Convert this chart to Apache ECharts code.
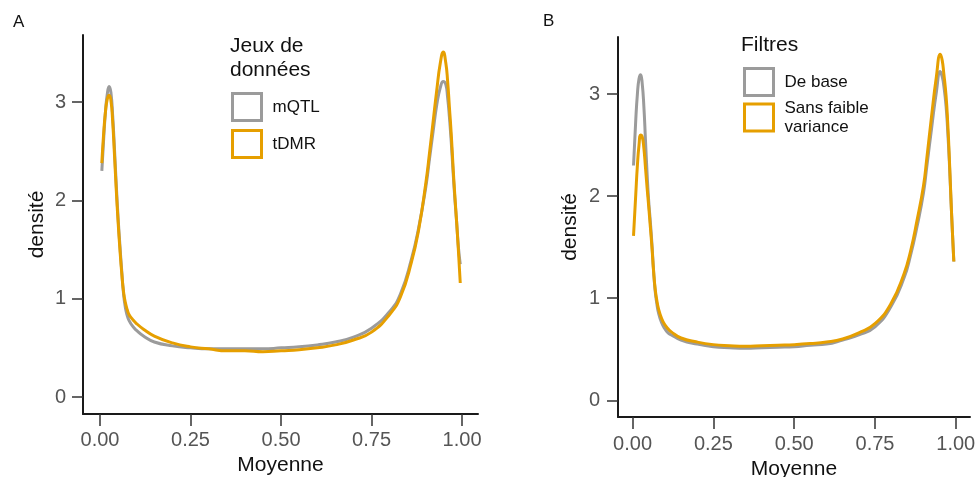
<!DOCTYPE html>
<html>
<head>
<meta charset="utf-8">
<script src="https://cdn.jsdelivr.net/npm/echarts@6/dist/echarts.min.js"></script>
<style>
  html, body { margin: 0; padding: 0; background: #fff; }
  #chart { width: 979px; height: 477px; }
</style>
</head>
<body>
<div id="chart"></div>
<script>
// panneau A : jeux de données
const xA = [0.005, 0.01, 0.015, 0.02, 0.025, 0.03, 0.035, 0.04, 0.045, 0.05, 0.055, 0.06, 0.065, 0.07, 0.075, 0.08, 0.09, 0.1, 0.12, 0.15, 0.2, 0.25, 0.3, 0.35, 0.4, 0.45, 0.5, 0.55, 0.6, 0.65, 0.7, 0.75, 0.8, 0.83, 0.86, 0.88, 0.9, 0.91, 0.92, 0.93, 0.94, 0.948, 0.955, 0.96, 0.965, 0.97, 0.975, 0.98, 0.985, 0.99, 0.995];
const mQTL = [2.30, 2.62, 2.90, 3.08, 3.16, 3.10, 2.86, 2.52, 2.15, 1.82, 1.54, 1.28, 1.05, 0.91, 0.83, 0.78, 0.72, 0.68, 0.62, 0.56, 0.52, 0.50, 0.49, 0.49, 0.49, 0.49, 0.50, 0.51, 0.53, 0.56, 0.61, 0.70, 0.87, 1.05, 1.40, 1.72, 2.14, 2.42, 2.70, 2.97, 3.15, 3.21, 3.18, 3.05, 2.85, 2.60, 2.30, 2.02, 1.78, 1.52, 1.35];
const tDMR = [2.38, 2.68, 2.90, 3.03, 3.07, 3.02, 2.80, 2.46, 2.10, 1.78, 1.50, 1.26, 1.07, 0.96, 0.89, 0.84, 0.79, 0.75, 0.69, 0.62, 0.55, 0.51, 0.49, 0.47, 0.47, 0.46, 0.47, 0.48, 0.50, 0.53, 0.58, 0.66, 0.84, 1.02, 1.37, 1.70, 2.18, 2.48, 2.80, 3.12, 3.40, 3.51, 3.40, 3.22, 2.95, 2.68, 2.35, 2.05, 1.78, 1.48, 1.16];

// panneau B : filtres
const xB = [0.003, 0.01, 0.015, 0.02, 0.025, 0.03, 0.035, 0.04, 0.045, 0.05, 0.055, 0.06, 0.065, 0.07, 0.075, 0.08, 0.09, 0.1, 0.11, 0.12, 0.15, 0.2, 0.25, 0.3, 0.35, 0.4, 0.45, 0.5, 0.55, 0.6, 0.65, 0.7, 0.75, 0.8, 0.84, 0.86, 0.88, 0.9, 0.91, 0.925, 0.94, 0.952, 0.958, 0.963, 0.97, 0.975, 0.98, 0.985, 0.99, 0.994];
const deBase = [2.30, 2.75, 3.00, 3.15, 3.19, 3.10, 2.88, 2.55, 2.22, 1.95, 1.75, 1.53, 1.27, 1.07, 0.95, 0.86, 0.76, 0.70, 0.66, 0.64, 0.59, 0.55, 0.525, 0.515, 0.51, 0.515, 0.52, 0.525, 0.54, 0.55, 0.59, 0.64, 0.72, 0.92, 1.20, 1.42, 1.70, 2.03, 2.28, 2.66, 3.02, 3.22, 3.17, 3.08, 2.88, 2.64, 2.34, 1.97, 1.62, 1.36];
const sansFaible = [1.61, 2.02, 2.30, 2.50, 2.60, 2.58, 2.47, 2.28, 2.08, 1.90, 1.70, 1.50, 1.27, 1.09, 0.98, 0.90, 0.80, 0.74, 0.70, 0.67, 0.61, 0.57, 0.545, 0.535, 0.53, 0.535, 0.54, 0.545, 0.555, 0.57, 0.60, 0.66, 0.75, 0.95, 1.24, 1.46, 1.76, 2.10, 2.36, 2.78, 3.17, 3.39, 3.33, 3.20, 2.98, 2.72, 2.38, 1.98, 1.62, 1.36];

const xTicks = [0, 0.25, 0.5, 0.75, 1];
const yTicks = [0, 1, 2, 3];

const GRAY = '#9b9b9b', ORANGE = '#e69f00';
const FONT = 'Liberation Sans, Arial, sans-serif';

const pairs = (xs, ys) => xs.map((x, i) => [x, ys[i]]);

function xAxis(idx, min, max, gap, margin) {
  return {
    type: 'value', gridIndex: idx, min: min, max: max,
    name: 'Moyenne', nameLocation: 'middle', nameGap: gap,
    nameTextStyle: { fontFamily: FONT, fontSize: 21, color: '#111' },
    axisLine: { show: true, onZero: false, lineStyle: { color: '#1a1a1a', width: 2 } },
    axisTick: { show: true, length: 12, customValues: xTicks, lineStyle: { color: '#333', width: 1.5 } },
    axisLabel: { customValues: xTicks, margin: margin, fontFamily: FONT, fontSize: 20, color: '#555',
      formatter: v => v.toFixed(2) },
    splitLine: { show: false }
  };
}

function yAxis(idx, min, max, gap, margin) {
  return {
    type: 'value', gridIndex: idx, min: min, max: max,
    name: 'densité', nameLocation: 'middle', nameGap: gap,
    nameTextStyle: { fontFamily: FONT, fontSize: 21, color: '#111' },
    axisLine: { show: true, onZero: false, lineStyle: { color: '#1a1a1a', width: 2 } },
    axisTick: { show: true, length: 11, customValues: yTicks, lineStyle: { color: '#333', width: 1.5 } },
    axisLabel: { customValues: yTicks, margin: margin, fontFamily: FONT, fontSize: 20, color: '#555' },
    splitLine: { show: false }
  };
}

function line(name, idx, data, color) {
  return {
    name: name, type: 'line', xAxisIndex: idx, yAxisIndex: idx,
    data: data, smooth: true, showSymbol: false, symbol: 'none',
    lineStyle: { color: color, width: 3 }, itemStyle: { color: color },
    silent: true, animation: false
  };
}

function legend(items, left, top, gap) {
  return {
    orient: 'vertical', left: left, top: top, padding: 0,
    data: items.map(it => ({ name: it[0], icon: 'rect', itemStyle: { color: '#fff', borderColor: it[1], borderWidth: 3 } })),
    itemWidth: 29, itemHeight: 27, itemGap: gap,
    textStyle: { fontFamily: FONT, fontSize: 17, color: '#111', lineHeight: 19, padding: [0, 0, 0, 6] },
    selectedMode: false
  };
}

const ec = echarts.init(document.getElementById('chart'));
ec.setOption({
  animation: false,
  title: [
    { text: 'A', left: 13, top: 14, padding: 0, textStyle: { fontFamily: FONT, fontSize: 17, fontWeight: 'normal', color: '#111' } },
    { text: 'B', left: 543, top: 13, padding: 0, textStyle: { fontFamily: FONT, fontSize: 17, fontWeight: 'normal', color: '#111' } },
    { text: 'Jeux de\ndonnées', left: 230, top: 34, padding: 0, textStyle: { fontFamily: FONT, fontSize: 21, lineHeight: 24, fontWeight: 'normal', color: '#111' } },
    { text: 'Filtres', left: 741, top: 33, padding: 0, textStyle: { fontFamily: FONT, fontSize: 21, lineHeight: 24, fontWeight: 'normal', color: '#111' } }
  ],
  legend: [
    legend([['mQTL', GRAY], ['tDMR', ORANGE]], 231, 92, 7),
    Object.assign(legend([['De base', GRAY], ['Sans faible variance', ORANGE]], 743, 67, 1.5), {
      formatter: n => n === 'Sans faible variance' ? 'Sans faible\nvariance' : n
    })
  ],
  grid: [
    { left: 83, top: 35, width: 395, height: 379, outerBoundsMode: 'none', containLabel: false },
    { left: 618, top: 37, width: 352, height: 380, outerBoundsMode: 'none', containLabel: false }
  ],
  xAxis: [
    xAxis(0, -0.047, 1.044, 38, 16),
    xAxis(1, -0.045, 1.044, 39, 17)
  ],
  yAxis: [
    yAxis(0, -0.173, 3.683, 35, 17),
    yAxis(1, -0.164, 3.559, 37, 18)
  ],
  series: [
    line('mQTL', 0, pairs(xA, mQTL), GRAY),
    line('tDMR', 0, pairs(xA, tDMR), ORANGE),
    line('De base', 1, pairs(xB, deBase), GRAY),
    line('Sans faible variance', 1, pairs(xB, sansFaible), ORANGE)
  ]
});
</script>
</body>
</html>
